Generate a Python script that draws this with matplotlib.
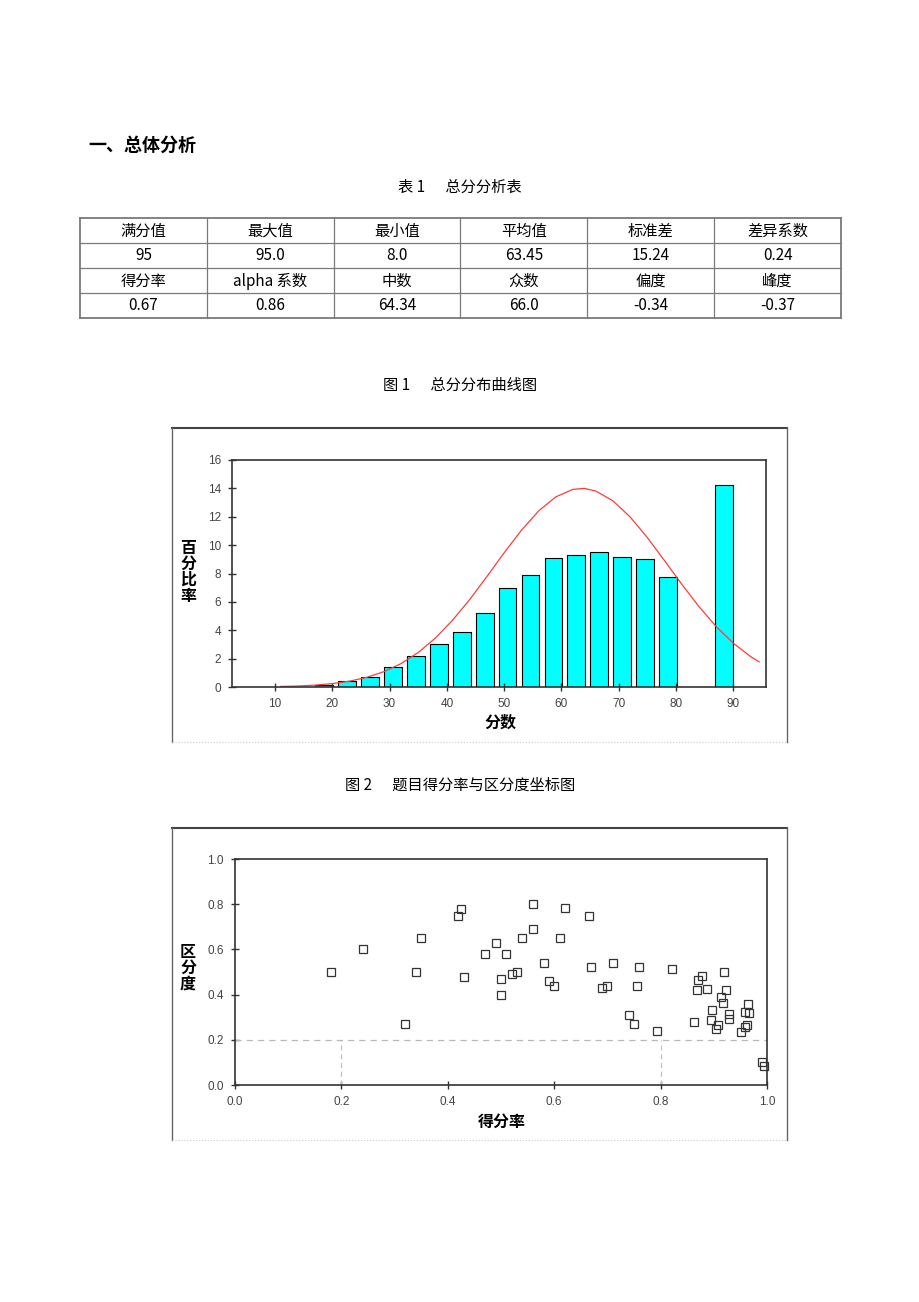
import matplotlib.pyplot as plt
import matplotlib.lines as mlines

plt.rcParams['font.family'] = ['Noto Sans CJK SC', 'DejaVu Sans']

# --- Tabellendaten ---
tabelle = [
    ["满分值", "最大值", "最小值", "平均值", "标准差", "差异系数"],
    ["95", "95.0", "8.0", "63.45", "15.24", "0.24"],
    ["得分率", "alpha 系数", "中数", "众数", "偏度", "峰度"],
    ["0.67", "0.86", "64.34", "66.0", "-0.34", "-0.37"],
]

# --- Histogramm (Prozent je Klasse) ---
klassen_mitte = [18.6, 22.6, 26.6, 30.6, 34.6, 38.6, 42.6, 46.6, 50.6, 54.6,
                 58.6, 62.6, 66.6, 70.6, 74.6, 78.6, 88.4]
prozent = [0.15, 0.4, 0.73, 1.39, 2.15, 3.04, 3.87, 5.19, 7.0, 7.9,
           9.06, 9.29, 9.53, 9.15, 8.99, 7.76, 14.22]

# Normalkurve
kurve_x = [11, 14, 17, 20, 23, 26, 29, 32, 35, 38, 41, 44, 47, 50, 53, 56,
           59, 62, 64, 66, 69, 72, 75, 78, 81, 84, 87, 90, 93, 94.5]
kurve_y = [0.04, 0.07, 0.13, 0.24, 0.41, 0.68, 1.08, 1.65, 2.43, 3.45, 4.71,
           6.17, 7.79, 9.46, 11.04, 12.4, 13.4, 13.93, 14.0, 13.81, 13.12,
           11.98, 10.53, 8.9, 7.24, 5.67, 4.26, 3.09, 2.15, 1.77]

# --- Streudiagramm: Schwierigkeit (得分率) vs. Trennschärfe (区分度) ---
defrate = [0.18, 0.24, 0.32, 0.34, 0.35, 0.42, 0.425, 0.43, 0.47, 0.49,
           0.51, 0.50, 0.50, 0.52, 0.53, 0.54, 0.56, 0.56, 0.58, 0.59,
           0.60, 0.61, 0.62, 0.665, 0.67, 0.69, 0.70, 0.71, 0.74, 0.75,
           0.76, 0.756, 0.793, 0.821, 0.878, 0.871, 0.868, 0.888, 0.919,
           0.922, 0.914, 0.918, 0.896, 0.863, 0.894, 0.907, 0.904, 0.929,
           0.929, 0.964, 0.959, 0.967, 0.963, 0.959, 0.952, 0.991, 0.994]
trennung = [0.50, 0.60, 0.27, 0.50, 0.65, 0.75, 0.78, 0.48, 0.58, 0.63,
            0.58, 0.47, 0.40, 0.49, 0.50, 0.65, 0.80, 0.69, 0.54, 0.46,
            0.44, 0.65, 0.785, 0.75, 0.52, 0.43, 0.44, 0.54, 0.31, 0.27,
            0.52, 0.44, 0.238, 0.512, 0.482, 0.465, 0.422, 0.425, 0.501,
            0.42, 0.391, 0.365, 0.33, 0.277, 0.289, 0.265, 0.246, 0.314,
            0.291, 0.358, 0.324, 0.32, 0.265, 0.255, 0.233, 0.103, 0.085]

W, H = 920, 1302
fig = plt.figure(figsize=(W / 100, H / 100), dpi=100)


def box(l, t, r, b):
    # Pixelkoordinaten -> Figurenkoordinaten
    return [l / W, 1 - b / H, (r - l) / W, (b - t) / H]


def fy(y):
    return 1 - y / H


# --- Überschriften ---
fig.text(88 / W, fy(145), "一、总体分析", fontsize=13, fontweight='bold', va='center')
fig.text(0.5, fy(187), "表 1      总分分析表", fontsize=11, ha='center', va='center')
fig.text(0.5, fy(385), "图 1      总分分布曲线图", fontsize=11, ha='center', va='center')
fig.text(0.5, fy(785), "图 2      题目得分率与区分度坐标图", fontsize=11, ha='center', va='center')

# --- Tabelle ---
axt = fig.add_axes(box(80, 218, 841, 318))
axt.set_xlim(0, 6)
axt.set_ylim(4, 0)
axt.axis('off')
for i in range(5):
    axt.plot([0, 6], [i, i], color='#7a7a7a', lw=1.3 if i in (0, 4) else 0.9, clip_on=False)
for j in range(7):
    axt.plot([j, j], [0, 4], color='#7a7a7a', lw=1.3 if j in (0, 6) else 0.9, clip_on=False)
for i, zeile in enumerate(tabelle):
    for j, wert in enumerate(zeile):
        axt.text(j + 0.5, i + 0.52, wert, ha='center', va='center', fontsize=11)

# --- Rahmen um die Diagramme ---
for oben, unten in [(428, 742), (828, 1140)]:
    fig.add_artist(mlines.Line2D([172 / W, 787 / W], [fy(oben), fy(oben)], color='#444444', lw=1.5))
    fig.add_artist(mlines.Line2D([172 / W, 172 / W], [fy(oben), fy(unten)], color='#666666', lw=1.0))
    fig.add_artist(mlines.Line2D([787 / W, 787 / W], [fy(oben), fy(unten)], color='#666666', lw=1.0))
    fig.add_artist(mlines.Line2D([172 / W, 787 / W], [fy(unten), fy(unten)], color='#cccccc', lw=0.8, ls=':'))

tick_font = dict(fontsize=8.5, color='#444444', family=['Liberation Sans', 'DejaVu Sans'])

# --- Diagramm 1: Histogramm mit Kurve ---
ax1 = fig.add_axes(box(232, 460, 766, 687))
ax1.bar(klassen_mitte, prozent, width=3.1, color='#00FFFF', edgecolor='black', linewidth=0.8)
ax1.plot(kurve_x, kurve_y, color='#FF3B3B', lw=0.9)
ax1.set_xlim(2.5, 95.7)
ax1.set_ylim(0, 16)
ax1.set_xticks(range(10, 100, 10))
ax1.set_yticks(range(0, 18, 2))
ax1.set_xticklabels([str(v) for v in range(10, 100, 10)], **tick_font)
ax1.set_yticklabels([str(v) for v in range(0, 18, 2)], **tick_font)
ax1.tick_params(direction='inout', length=6, width=1, color='#333333', pad=5)
for s in ax1.spines.values():
    s.set_color('#333333')
    s.set_linewidth(1.2)
fig.text(188 / W, fy(572), "百\n分\n比\n率", fontsize=11.5, fontweight='bold',
         ha='center', va='center', linespacing=1.0)
fig.text(500 / W, fy(723), "分数", fontsize=11.5, fontweight='bold', ha='center', va='center')

# --- Diagramm 2: Streudiagramm ---
ax2 = fig.add_axes(box(235, 859, 767, 1085))
ax2.axhline(0.2, color='#b8b8b8', lw=0.9, ls=(0, (5, 4)))
ax2.plot([0.2, 0.2], [0, 0.2], color='#c0c0c0', lw=0.9, ls=(0, (4, 3)))
ax2.plot([0.8, 0.8], [0, 0.2], color='#c0c0c0', lw=0.9, ls=(0, (4, 3)))
ax2.plot(defrate, trennung, ls='none', marker='s', markersize=6,
         markerfacecolor='none', markeredgecolor='#333333', markeredgewidth=0.9, clip_on=False)
ax2.set_xlim(0, 1)
ax2.set_ylim(0, 1)
xt = [0.0, 0.2, 0.4, 0.6, 0.8, 1.0]
ax2.set_xticks(xt)
ax2.set_yticks(xt)
ax2.set_xticklabels([f"{v:.1f}" for v in xt], **tick_font)
ax2.set_yticklabels([f"{v:.1f}" for v in xt], **tick_font)
ax2.tick_params(direction='inout', length=6, width=1, color='#333333', pad=5)
for s in ax2.spines.values():
    s.set_color('#333333')
    s.set_linewidth(1.2)
fig.text(188 / W, fy(968), "区\n分\n度", fontsize=11.5, fontweight='bold',
         ha='center', va='center', linespacing=1.0)
fig.text(502 / W, fy(1122), "得分率", fontsize=11.5, fontweight='bold', ha='center', va='center')

plt.savefig("out.png", dpi=100)
